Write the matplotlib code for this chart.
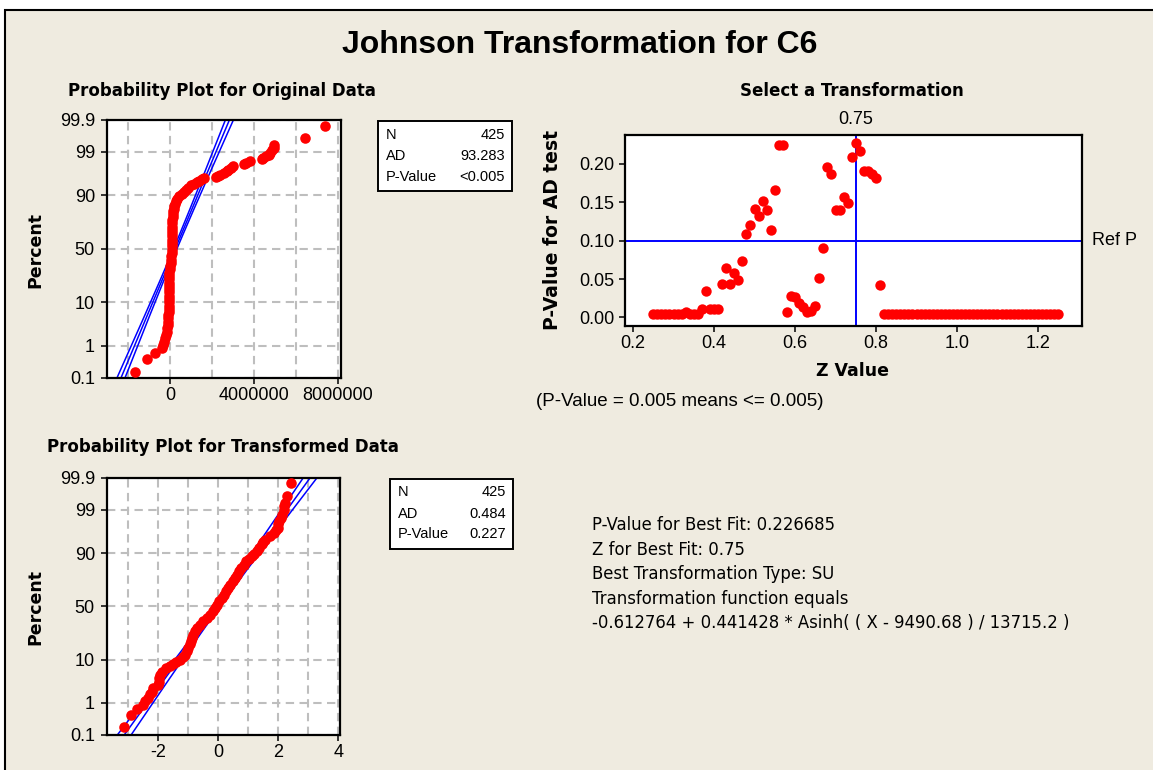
import matplotlib
matplotlib.use('Agg')
import matplotlib.pyplot as plt
import matplotlib.transforms as mtransforms
from matplotlib.patches import Rectangle
from matplotlib import ticker
import numpy as np
from statistics import NormalDist

# valores (Minitab, transformacion de Johnson)
n_obs = 425
pct_ticks = [0.1, 1, 10, 50, 90, 99, 99.9]
pct_labels = ['0.1', '1', '10', '50', '90', '99', '99.9']

# datos originales: percentil y valor de cada punto
orig_pct = [0.16, 0.40, 0.64, 0.87, 1.07, 1.29, 1.58, 1.92, 2.33, 2.81, 3.36, 4.0,
            4.75, 5.6, 6.4, 7.5, 8.7, 10.0, 11.5, 13.1, 14.9, 16.9, 18.7, 20.9,
            23.3, 25.8, 28.4, 31.2, 34.1, 37.1, 39.7, 42.9, 46.0, 49.2, 52.4, 55.6,
            58.7, 61.8, 64.4, 67.4, 70.2, 72.9, 75.5, 77.9, 80.0, 81.6, 83.1, 84.6,
            86.0, 87.3, 88.5, 89.6, 90.5, 91.3, 92.2, 92.9, 93.6, 94.1, 94.5, 94.9,
            95.2, 95.5, 95.7, 96.0, 96.25, 96.6, 96.9, 97.1, 97.4, 97.7, 97.9, 98.0,
            98.26, 98.4, 98.5, 98.7, 98.8, 98.9, 99.1, 99.2, 99.36, 99.6, 99.84]
orig_val = [-1667000, -1095000, -698000, -380000, -317000, -286000, -230000, -190000,
            -160000, -130000, -110000, -95000, -80000, -70000, -63000, -58000, -55000,
            -52000, -50000, -48000, -47000, -46000, -45000, -43000, -40000, -36000,
            -30000, -10000, 20000, 45000, 60000, 70000, 78000, 84000, 90000, 93000,
            96000, 99000, 102000, 106000, 110000, 115000, 122000, 132000, 145000,
            162000, 185000, 210000, 240000, 290000, 350000, 440000, 556000, 650000,
            760000, 880000, 1030000, 1150000, 1270000, 1400000, 1510000, 1640000,
            2220000, 2300000, 2410000, 2600000, 2700000, 2780000, 2900000, 3020000,
            3550000, 3650000, 3840000, 4380000, 4450000, 4600000, 4700000, 4790000,
            4880000, 4950000, 4970000, 6430000, 7410000]
orig_mu = 255000
orig_sd = 835000

# datos transformados
trans_pct = [0.18, 0.43, 0.68, 0.9, 1.1, 1.36, 1.7, 2.0, 2.4, 2.9, 3.5, 4.2, 5.0,
             5.8, 6.8, 7.5, 8.2, 9.0, 9.9, 11.0, 12.3, 14.0, 15.9, 18.0, 20.0, 22.3,
             24.8, 27.5, 30.2, 33.0, 35.9, 39.0, 42.1, 45.2, 48.4, 51.6, 54.8, 58.0,
             61.0, 64.0, 67.0, 69.8, 72.6, 75.2, 77.6, 80.0, 82.1, 84.1, 86.0, 87.3,
             88.5, 89.7, 90.8, 92.0, 93.2, 94.0, 94.6, 95.4, 96.2, 96.7, 97.1, 97.6,
             98.0, 98.3, 98.6, 99.0, 99.2, 99.36, 99.6, 99.85]
trans_val = [-3.13, -2.91, -2.70, -2.52, -2.44, -2.36, -2.27, -2.22, -2.17, -2.02,
             -1.98, -1.97, -1.93, -1.89, -1.74, -1.62, -1.50, -1.40, -1.28, -1.18,
             -1.11, -1.05, -1.00, -0.96, -0.92, -0.87, -0.83, -0.77, -0.70, -0.60,
             -0.50, -0.39, -0.28, -0.19, -0.11, -0.03, 0.03, 0.11, 0.19, 0.26, 0.33,
             0.40, 0.47, 0.54, 0.61, 0.69, 0.76, 0.84, 0.91, 1.01, 1.11, 1.20, 1.28,
             1.36, 1.44, 1.50, 1.56, 1.72, 1.86, 1.93, 1.97, 2.00, 2.03, 2.07, 2.11,
             2.17, 2.20, 2.22, 2.28, 2.41]
trans_mu = -0.04
trans_sd = 1.0

# seleccion de la transformacion: Z de 0.25 a 1.25
z_values = [round(0.25 + 0.01 * i, 2) for i in range(101)]
p_values = ([0.005] * 8 + [0.0076] + [0.005] * 3 +
            [0.011, 0.034, 0.011, 0.011, 0.011, 0.044, 0.065, 0.044, 0.058, 0.049,
             0.073, 0.109, 0.120, 0.141, 0.1325, 0.151, 0.140, 0.114, 0.166, 0.224,
             0.224, 0.0076, 0.0285, 0.026, 0.0185, 0.014, 0.0076, 0.009, 0.0155,
             0.052, 0.091, 0.196, 0.187, 0.140, 0.140, 0.157, 0.149, 0.209, 0.226685,
             0.216, 0.190, 0.190, 0.187, 0.182, 0.042] + [0.005] * 44)
z_best = 0.75
p_ref = 0.10

W, H = 1153, 770
beige = '#EFEBE0'
grid_gris = '#BEBEBE'

plt.rcParams['font.family'] = ['Liberation Sans', 'DejaVu Sans']
fig = plt.figure(figsize=(W / 100, H / 100), dpi=100, facecolor='white')


def fx(x):
    return x / W


def fy(y):
    return 1 - y / H


def ejes(x0, y0, x1, y1):
    return fig.add_axes([fx(x0), fy(y1), (x1 - x0) / W, (y1 - y0) / H])


def estilo(ax):
    for s in ax.spines.values():
        s.set_linewidth(1.6)
    ax.tick_params(which='major', direction='out', length=4.5, width=1.1,
                   labelsize=13, pad=2.5)
    ax.tick_params(which='minor', length=0)
    ax.set_facecolor('white')


def grafica_prob(ax, pct, val, mu, sd, xlim, major, minor):
    nd = NormalDist()
    zs = [nd.inv_cdf(p / 100) for p in pct]
    zz = np.linspace(-3.3, 3.3, 200)
    fit = mu + sd * zz
    half = 1.96 * sd * np.sqrt((1 + zz ** 2 / 2) / n_obs)
    for curva in (fit - half, fit, fit + half):
        ax.plot(curva, zz, color='blue', lw=1.1, zorder=2)
    ax.plot(val, zs, 'o', color='red', ms=7.6, mec='none', zorder=3)
    ax.set_xlim(xlim)
    ax.set_ylim(nd.inv_cdf(0.001), nd.inv_cdf(0.999))
    ax.set_yticks([nd.inv_cdf(p / 100) for p in pct_ticks])
    ax.set_yticklabels(pct_labels)
    ax.set_xticks(major)
    ax.set_xticks(minor, minor=True)
    ax.xaxis.set_major_formatter(ticker.FuncFormatter(lambda v, p: f'{v:g}' if abs(v) < 100 else f'{v:.0f}'))
    ax.grid(True, which='both', axis='x', color=grid_gris, lw=1.5, ls=(0, (4, 2.6)))
    ax.grid(True, which='major', axis='y', color=grid_gris, lw=1.5, ls=(0, (4, 2.6)))
    ax.set_axisbelow(True)
    estilo(ax)
    ax.tick_params(axis='y', pad=4)


def caja_stats(x0, y0, x1, y1, filas):
    fig.patches.append(Rectangle((fx(x0), fy(y1)), (x1 - x0) / W, (y1 - y0) / H,
                                 transform=fig.transFigure, facecolor='white',
                                 edgecolor='black', lw=1.4))
    for i, (k, v) in enumerate(filas):
        yy = y0 + 14 + i * 21
        fig.text(fx(x0 + 8), fy(yy), k, fontsize=10.5, va='center', ha='left')
        fig.text(fx(x1 - 7), fy(yy), v, fontsize=10.5, va='center', ha='right')


# fondo y marco
fig.patches.append(Rectangle((fx(4.5), fy(790)), 1.1, (790 - 9.5) / H,
                             transform=fig.transFigure, facecolor=beige,
                             edgecolor='black', lw=1.5, zorder=-10))

fig.text(fx(580), fy(45), 'Johnson Transformation for C6', fontsize=23,
         fontweight='bold', ha='center', va='center',
         family=['Liberation Sans Narrow', 'Liberation Sans'])

# probabilidad datos originales
ax1 = ejes(106.7, 120, 340.7, 377.7)
grafica_prob(ax1, orig_pct, orig_val, orig_mu, orig_sd, (-3.01e6, 8.14e6),
             [0, 4e6, 8e6], [-2e6, 2e6, 6e6])
fig.text(fx(221.5), fy(91), 'Probability Plot for Original Data', fontsize=12,
         fontweight='bold', ha='center', va='center', family='DejaVu Sans')
fig.text(fx(35), fy(250), 'Percent', fontsize=12.5, fontweight='bold', rotation=90,
         ha='center', va='center', family='DejaVu Sans')
caja_stats(378, 121, 512, 190.5, [('N', '425'), ('AD', '93.283'), ('P-Value', '<0.005')])

# probabilidad datos transformados
ax3 = ejes(106.7, 478, 340.3, 734.7)
grafica_prob(ax3, trans_pct, trans_val, trans_mu, trans_sd, (-3.72, 4.06),
             [-2, 0, 2, 4], [-3, -1, 1, 3])
fig.text(fx(223), fy(447), 'Probability Plot for Transformed Data', fontsize=12,
         fontweight='bold', ha='center', va='center', family='DejaVu Sans')
fig.text(fx(35), fy(607), 'Percent', fontsize=12.5, fontweight='bold', rotation=90,
         ha='center', va='center', family='DejaVu Sans')
caja_stats(390, 478.5, 512.5, 549, [('N', '425'), ('AD', '0.484'), ('P-Value', '0.227')])

# seleccion de la transformacion
ax2 = ejes(625, 134.7, 1082.3, 325.7)
ax2.scatter(z_values, p_values, s=56, color='red', linewidths=0, zorder=3)
ax2.axhline(p_ref, color='blue', lw=1.4, zorder=2)
ax2.axvline(z_best, color='blue', lw=1.4, zorder=2)
ax2.set_xlim(0.1802, 1.3094)
ax2.set_ylim(-0.0107, 0.2378)
ax2.set_xticks([0.2, 0.4, 0.6, 0.8, 1.0, 1.2])
ax2.set_yticks([0.0, 0.05, 0.10, 0.15, 0.20])
ax2.xaxis.set_major_formatter(ticker.FormatStrFormatter('%.1f'))
ax2.yaxis.set_major_formatter(ticker.FormatStrFormatter('%.2f'))
estilo(ax2)
ax2.tick_params(axis='y', pad=3)
tr = mtransforms.blended_transform_factory(ax2.transData, ax2.transAxes)
ax2.text(z_best, 1 + 14.7 / 191, f'{z_best:.2f}', transform=tr, fontsize=13,
         ha='center', va='center')
tr2 = mtransforms.blended_transform_factory(ax2.transAxes, ax2.transData)
ax2.text(1 + 10 / 457.3, p_ref, 'Ref P', transform=tr2, fontsize=13,
         ha='left', va='center')
fig.text(fx(852), fy(91), 'Select a Transformation', fontsize=12,
         fontweight='bold', ha='center', va='center', family='DejaVu Sans')
fig.text(fx(552), fy(230), 'P-Value for AD test', fontsize=13.5, fontweight='bold',
         rotation=90, ha='center', va='center', family='DejaVu Sans')
fig.text(fx(852), fy(371), 'Z Value', fontsize=12.5, fontweight='bold',
         ha='center', va='center', family='DejaVu Sans')
fig.text(fx(536), fy(402), '(P-Value = 0.005 means <= 0.005)', fontsize=13.5,
         ha='left', va='center')

# resumen del mejor ajuste
lineas = ['P-Value for Best Fit: 0.226685',
          'Z for Best Fit: 0.75',
          'Best Transformation Type: SU',
          'Transformation function equals',
          '-0.612764 + 0.441428 * Asinh( ( X - 9490.68 ) / 13715.2 )']
for i, t in enumerate(lineas):
    fig.text(fx(592), fy(525 + i * 24.6), t, fontsize=11.9, ha='left', va='center',
             family='DejaVu Sans')

fig.savefig('out.png', dpi=100, facecolor=fig.get_facecolor())
